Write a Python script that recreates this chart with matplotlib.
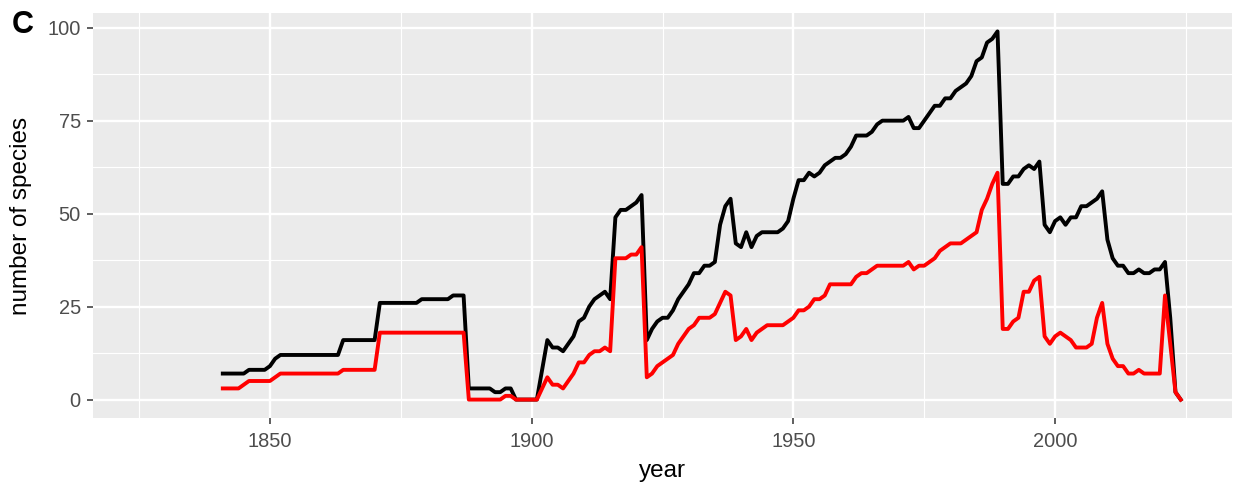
import numpy as np
import matplotlib.pyplot as plt
from matplotlib.ticker import MultipleLocator

plt.rcParams['font.family'] = ['Liberation Sans', 'DejaVu Sans']

# yearly counts of species
years = np.arange(1841, 2025)

total_species = [
    7, 7, 7, 7, 7, 8, 8, 8, 8, 9,
    11, 12, 12, 12, 12, 12, 12, 12, 12, 12,
    12, 12, 12, 16, 16, 16, 16, 16, 16, 16,
    26, 26, 26, 26, 26, 26, 26, 26, 27, 27,
    27, 27, 27, 27, 28, 28, 28, 3, 3, 3,
    3, 3, 2, 2, 3, 3, 0, 0, 0, 0,
    0, 8, 16, 14, 14, 13, 15, 17, 21, 22,
    25, 27, 28, 29, 27, 49, 51, 51, 52, 53,
    55, 16, 19, 21, 22, 22, 24, 27, 29, 31,
    34, 34, 36, 36, 37, 47, 52, 54, 42, 41,
    45, 41, 44, 45, 45, 45, 45, 46, 48, 54,
    59, 59, 61, 60, 61, 63, 64, 65, 65, 66,
    68, 71, 71, 71, 72, 74, 75, 75, 75, 75,
    75, 76, 73, 73, 75, 77, 79, 79, 81, 81,
    83, 84, 85, 87, 91, 92, 96, 97, 99, 58,
    58, 60, 60, 62, 63, 62, 64, 47, 45, 48,
    49, 47, 49, 49, 52, 52, 53, 54, 56, 43,
    38, 36, 36, 34, 34, 35, 34, 34, 35, 35,
    37, 22, 2, 0,
]

subset_species = [
    3, 3, 3, 3, 4, 5, 5, 5, 5, 5,
    6, 7, 7, 7, 7, 7, 7, 7, 7, 7,
    7, 7, 7, 8, 8, 8, 8, 8, 8, 8,
    18, 18, 18, 18, 18, 18, 18, 18, 18, 18,
    18, 18, 18, 18, 18, 18, 18, 0, 0, 0,
    0, 0, 0, 0, 1, 1, 0, 0, 0, 0,
    0, 3, 6, 4, 4, 3, 5, 7, 10, 10,
    12, 13, 13, 14, 13, 38, 38, 38, 39, 39,
    41, 6, 7, 9, 10, 11, 12, 15, 17, 19,
    20, 22, 22, 22, 23, 26, 29, 28, 16, 17,
    19, 16, 18, 19, 20, 20, 20, 20, 21, 22,
    24, 24, 25, 27, 27, 28, 31, 31, 31, 31,
    31, 33, 34, 34, 35, 36, 36, 36, 36, 36,
    36, 37, 35, 36, 36, 37, 38, 40, 41, 42,
    42, 42, 43, 44, 45, 51, 54, 58, 61, 19,
    19, 21, 22, 29, 29, 32, 33, 17, 15, 17,
    18, 17, 16, 14, 14, 14, 15, 22, 26, 15,
    11, 9, 9, 7, 7, 8, 7, 7, 7, 7,
    28, 15, 2, 0,
]

W, H = 1235, 487
fig = plt.figure(figsize=(W / 100, H / 100), dpi=100)
ax = fig.add_axes([93 / W, 1 - 418 / H, (1232 - 93) / W, (418 - 13) / H])

ax.set_facecolor('#EBEBEB')
for s in ax.spines.values():
    s.set_visible(False)

ax.plot(years, total_species, color='black', lw=2.8, solid_joinstyle='round', zorder=3)
ax.plot(years, subset_species, color='#FF0000', lw=2.8, solid_joinstyle='round', zorder=4)

ax.set_xlim(1816.2, 2033.8)
ax.set_ylim(-4.95, 103.95)

ax.xaxis.set_major_locator(MultipleLocator(50))
ax.xaxis.set_minor_locator(MultipleLocator(25))
ax.yaxis.set_major_locator(MultipleLocator(25))
ax.yaxis.set_minor_locator(MultipleLocator(12.5))

ax.grid(which='major', color='white', lw=1.7, zorder=0)
ax.grid(which='minor', color='white', lw=0.85, zorder=0)
ax.set_axisbelow(True)

ax.tick_params(which='major', length=4.5, width=1.1, color='#333333',
               labelsize=14.4, labelcolor='#4D4D4D')
ax.tick_params(axis='x', which='major', pad=5.5)
ax.tick_params(axis='y', which='major', pad=4.3)
ax.tick_params(which='minor', length=0)

fig.text(662 / W, 1 - 477.3 / H, 'year', fontsize=17.5, ha='center', va='baseline')
fig.text(26.7 / W, 1 - 215.5 / H, 'number of species', fontsize=17.5,
         rotation=90, rotation_mode='anchor', ha='center', va='baseline')
fig.text(12 / W, 1 - 33.3 / H, 'C', fontsize=22, fontweight='bold',
         ha='left', va='baseline')

fig.savefig('out.png', dpi=100, facecolor='white')
